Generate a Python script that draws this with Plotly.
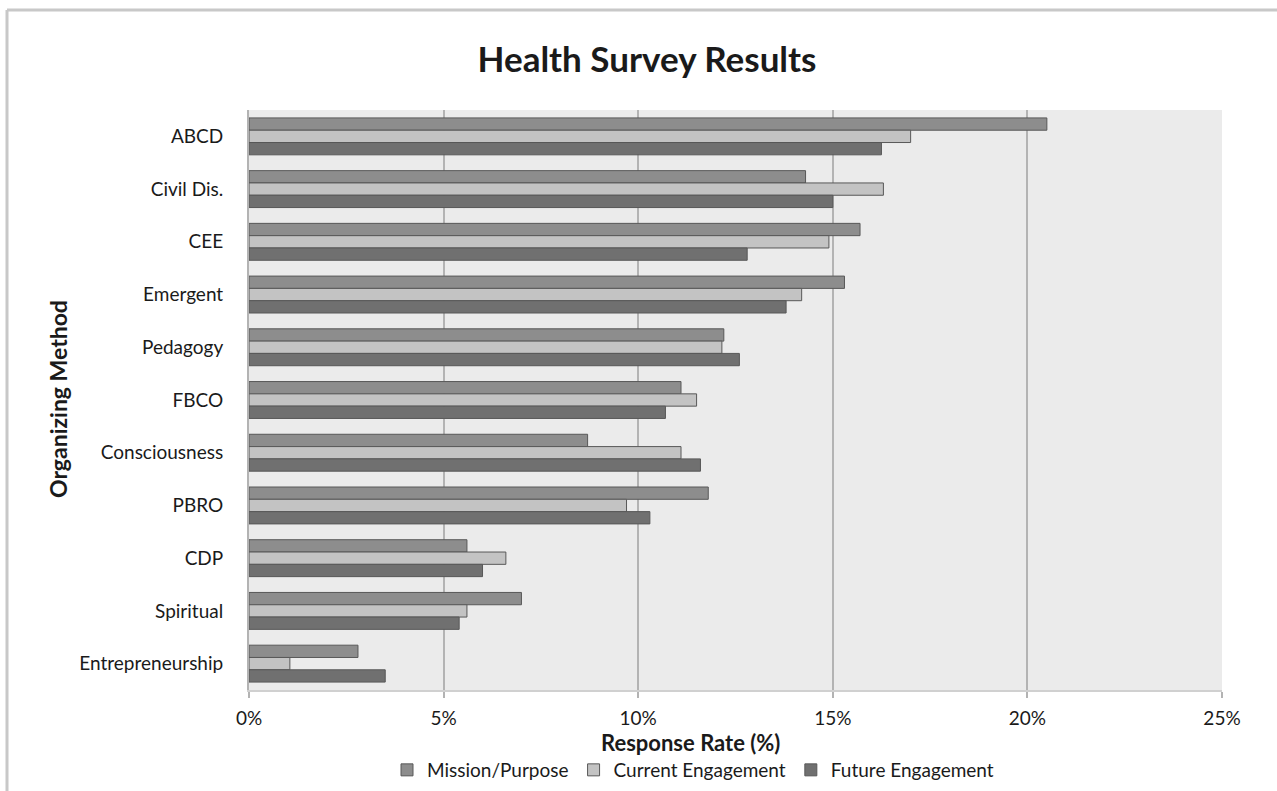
import plotly.graph_objects as go

# Organizing methods, top to bottom
methods = ["ABCD", "Civil Dis.", "CEE", "Emergent", "Pedagogy", "FBCO",
           "Consciousness", "PBRO", "CDP", "Spiritual", "Entrepreneurship"]

# Response rates (%) per survey dimension
mission_purpose = [20.5, 14.3, 15.7, 15.3, 12.2, 11.1, 8.7, 11.8, 5.6, 7.0, 2.8]
current_engagement = [17.0, 16.3, 14.9, 14.2, 12.15, 11.5, 11.1, 9.7, 6.6, 5.6, 1.05]
future_engagement = [16.25, 15.0, 12.8, 13.8, 12.6, 10.7, 11.6, 10.3, 6.0, 5.4, 3.5]

x_ticks = [0, 5, 10, 15, 20, 25]
x_tick_text = ["0%", "5%", "10%", "15%", "20%", "25%"]

FONT = "Lato"
TEXT = "#1a1a1a"

series = [
    ("Mission/Purpose", mission_purpose, "#8d8d8d"),
    ("Current Engagement", current_engagement, "#c3c3c3"),
    ("Future Engagement", future_engagement, "#707070"),
]

fig = go.Figure()
for name, vals, color in series:
    fig.add_trace(go.Bar(
        y=methods, x=vals, name=name, orientation="h",
        marker=dict(color=color, line=dict(color="#585858", width=1)),
    ))

W, H = 1277, 791
L, R, T, B = 249, 55, 110, 101
pw, ph = W - L - R, H - T - B


def px(x):
    return (x - L) / pw


def py(y):
    return (H - B - y) / ph


fig.update_layout(
    width=W, height=H,
    margin=dict(l=L, r=R, t=T, b=B, autoexpand=False),
    paper_bgcolor="white",
    plot_bgcolor="#ebebeb",
    barmode="group",
    bargap=0.3,
    bargroupgap=0,
    font=dict(family=FONT, color=TEXT, size=19),
    title=dict(text="<b>Health Survey Results</b>", xref="container", x=647 / W, xanchor="center",
               yref="container", y=1 - 60 / H, yanchor="middle",
               font=dict(size=35, family=FONT, color=TEXT)),
    showlegend=True,
    legend=dict(orientation="h", x=px(693), xanchor="center", y=py(770), yanchor="middle",
                font=dict(size=19, family=FONT, color=TEXT), bgcolor="rgba(0,0,0,0)",
                itemwidth=30, traceorder="normal"),
    xaxis=dict(range=[0, 25], tickvals=x_ticks, ticktext=x_tick_text,
               showgrid=True, gridcolor="#b3b3b3", gridwidth=2,
               zeroline=False, showline=True, linecolor="#d0d0d0", linewidth=2,
               ticks="outside", ticklen=6, tickcolor="#b3b3b3", tickwidth=2,
               ticklabelstandoff=4,
               tickfont=dict(size=19, family=FONT, color=TEXT), fixedrange=True),
    yaxis=dict(autorange="reversed", showgrid=False, zeroline=False,
               showline=True, linecolor="#b3b3b3", linewidth=2,
               ticks="", ticklabelstandoff=20,
               tickfont=dict(size=19, family=FONT, color=TEXT), fixedrange=True),
    annotations=[
        dict(text="<b>Response Rate (%)</b>", xref="paper", yref="paper",
             x=px(690), y=py(742), xanchor="center", yanchor="middle",
             showarrow=False, font=dict(size=22, family=FONT, color=TEXT)),
        dict(text="<b>Organizing Method</b>", xref="paper", yref="paper",
             x=px(58), y=py(399), xanchor="center", yanchor="middle", textangle=-90,
             showarrow=False, font=dict(size=23, family=FONT, color=TEXT)),
    ],
    shapes=[
        # chart frame (top and left edges)
        dict(type="line", xref="paper", yref="paper", x0=px(7), x1=px(1290),
             y0=py(10), y1=py(10), line=dict(color="#c8c8c8", width=3)),
        dict(type="line", xref="paper", yref="paper", x0=px(7), x1=px(7),
             y0=py(10), y1=py(800), line=dict(color="#c8c8c8", width=3)),
    ],
)

fig.write_html("out.html", config={"displayModeBar": False})
